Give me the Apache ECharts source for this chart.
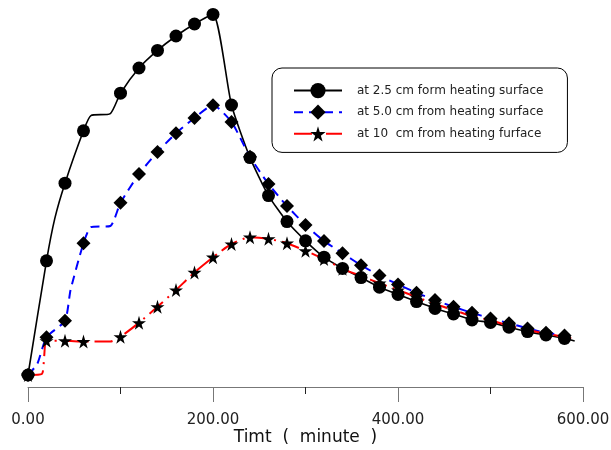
<!DOCTYPE html>
<html>
<head>
<meta charset="utf-8">
<script src="https://cdn.jsdelivr.net/npm/echarts@6/dist/echarts.min.js"></script>
<style>
  html, body { margin: 0; padding: 0; background: #fff; }
  #chart { width: 611px; height: 450px; }
</style>
</head>
<body>
<div id="chart"></div>
<script>
// minutes where the markers sit (no marker at 80)
const markTime = [0, 20, 40, 60, 100, 120, 140, 160, 180, 200, 220, 240, 260, 280, 300,
  320, 340, 360, 380, 400, 420, 440, 460, 480, 500, 520, 540, 560, 580];

// at 2.5 cm
const at25 = [20.25, 48.8, 68.2, 81.3, 90.7, 97.0, 101.4, 105.0, 108.0, 110.4, 87.75, 74.6, 65.1, 58.6, 53.8,
  49.7, 46.9, 44.6, 42.2, 40.4, 38.6, 36.9, 35.5, 34.0, 33.4, 32.2, 31.1, 30.25, 29.4];
// at 5.0 cm
const at50 = [20.25, 29.7, 33.8, 53.2, 63.3, 70.5, 76.0, 80.7, 84.5, 87.7, 83.5, 74.8, 68.0, 62.5, 57.75,
  53.75, 50.7, 47.7, 45.1, 42.9, 40.8, 39.0, 37.3, 35.8, 34.4, 33.2, 31.9, 30.8, 30.1];
// at 10 cm
const at10 = [20.25, 28.8, 28.8, 28.6, 29.8, 33.3, 37.3, 41.5, 45.9, 49.7, 53.0, 54.7, 54.3, 53.2, 51.3,
  49.25, 46.8, 45.0, 43.2, 41.5, 39.75, 38.0, 36.5, 35.0, 33.9, 32.6, 31.5, 30.6, 29.75];

// points on the lines that carry no marker
const at25Line = [[29, 59.4], [68, 85.1], [89, 85.6], [591, 28.75]];
const at50Line = [[10, 23], [46, 41.5], [68, 57.2], [89, 57.5], [591, 29.6]];
const at10Line = [[15, 20.5], [17.5, 25], [89, 28.6], [591, 29.3]];

const xTicks = [0, 200, 400, 600];

const names = [
  'at 2.5 cm form heating surface',
  'at 5.0 cm from heating surface',
  'at 10  cm from heating furface'
];

const star = 'path://M50,0 L61,35 L98,35 L68,57 L79,91 L50,70 L21,91 L32,57 L2,35 L39,35 Z';
const font = 'DejaVu Sans';

function merge(vals, extra) {
  let pts = markTime.map((t, i) => ({ value: [t, vals[i]] }));
  extra.forEach(p => pts.push({ value: p, symbol: 'none' }));
  pts.sort((a, b) => a.value[0] - b.value[0]);
  return pts;
}

let chart = echarts.init(document.getElementById('chart'), null, { renderer: 'canvas' });

chart.setOption({
  animation: false,
  textStyle: { fontFamily: font },
  grid: { left: 28, right: 28, top: 0, bottom: 63, outerBoundsMode: 'none', containLabel: false },
  legend: {
    orient: 'vertical',
    left: 272,
    top: 68,
    padding: [15, 24, 11, 21],
    itemWidth: 48,
    itemHeight: 19,
    itemGap: 6.4,
    borderColor: '#000',
    borderWidth: 1,
    borderRadius: 10,
    textStyle: { fontFamily: font, fontSize: 12, color: '#222', padding: [0, 0, 0, 10] },
    data: names
  },
  xAxis: {
    type: 'value',
    min: 0,
    max: 600,
    interval: 200,
    splitLine: { show: false },
    axisLine: { lineStyle: { color: '#777', width: 1 } },
    axisTick: { length: 15, lineStyle: { color: '#777' } },
    minorTick: { show: true, splitNumber: 2, length: 7, lineStyle: { color: '#222' } },
    axisLabel: {
      margin: 26,
      fontFamily: font,
      fontSize: 15,
      color: '#222',
      formatter: v => xTicks.indexOf(v) >= 0 ? v.toFixed(2) : ''
    },
    name: 'Timt  (  minute  )',
    nameLocation: 'middle',
    nameGap: 42,
    nameMoveOverlap: false,
    nameTextStyle: { fontFamily: font, fontSize: 17, color: '#111' }
  },
  yAxis: {
    type: 'value',
    min: 17.25,
    max: 114,
    show: false
  },
  series: [
    {
      name: names[0],
      type: 'line',
      clip: false,
      smooth: 0.2,
      symbol: 'circle',
      symbolSize: 13,
      itemStyle: { color: '#000' },
      lineStyle: { color: '#000', width: 1.6 },
      data: merge(at25, at25Line)
    },
    {
      name: names[1],
      type: 'line',
      clip: false,
      smooth: 0.2,
      symbol: 'diamond',
      symbolSize: 14,
      itemStyle: { color: '#000' },
      lineStyle: { color: '#0000ff', width: 2, type: [9, 6] },
      data: merge(at50, at50Line)
    },
    {
      name: names[2],
      type: 'line',
      clip: false,
      smooth: 0.2,
      symbol: star,
      symbolSize: 14,
      itemStyle: { color: '#000' },
      lineStyle: { color: '#ff0000', width: 2, type: [18, 6, 2, 6] },
      data: merge(at10, at10Line)
    }
  ]
});
</script>
</body>
</html>
